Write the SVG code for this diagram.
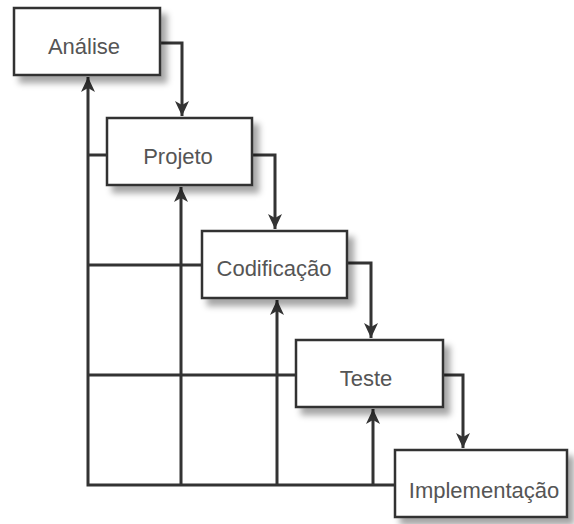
<svg xmlns="http://www.w3.org/2000/svg" width="574" height="524" viewBox="0 0 574 524">
<defs>
<style>
.box{fill:#fff;stroke:#333;stroke-width:2.5}
.lbl{font-family:"Liberation Sans",Arial,sans-serif;font-size:22px;fill:#555;text-anchor:middle}
.ln{fill:none;stroke:#333;stroke-width:3}
</style>
<filter id="sh" x="-10%" y="-10%" width="130%" height="140%">
<feDropShadow dx="6" dy="7" stdDeviation="3" flood-color="#000" flood-opacity="0.35"/>
</filter>
<marker id="au" markerWidth="15" markerHeight="14" refX="15" refY="7" orient="auto" markerUnits="userSpaceOnUse" viewBox="0 0 15 14">
<path d="M0,0 L4,7 L0,14 L15,7 Z" fill="#333"/>
</marker>
</defs>
<rect width="574" height="524" fill="#fff"/>
<g id="connectors">
<path class="ln" d="M160,43 H182 V116" marker-end="url(#au)"/>
<path class="ln" d="M252,155 H275 V229" marker-end="url(#au)"/>
<path class="ln" d="M347,263 H371 V338" marker-end="url(#au)"/>
<path class="ln" d="M443,375 H463 V448" marker-end="url(#au)"/>
<path class="ln" d="M395,485 H88 V77" marker-end="url(#au)"/>
<path class="ln" d="M181,485 V187" marker-end="url(#au)"/>
<path class="ln" d="M277,485 V300" marker-end="url(#au)"/>
<path class="ln" d="M373,485 V409" marker-end="url(#au)"/>
<path class="ln" d="M88,155 H107"/>
<path class="ln" d="M88,265 H202"/>
<path class="ln" d="M88,375 H296"/>
</g>
<g id="analise"><rect class="box" x="14" y="8" width="146" height="67" filter="url(#sh)"/><text class="lbl" x="84" y="54">Análise</text></g>
<g id="projeto"><rect class="box" x="107" y="118" width="145" height="67" filter="url(#sh)"/><text class="lbl" x="178" y="164">Projeto</text></g>
<g id="codificacao"><rect class="box" x="202" y="231" width="145" height="67" filter="url(#sh)"/><text class="lbl" x="274" y="276">Codificação</text></g>
<g id="teste"><rect class="box" x="296" y="340" width="147" height="67" filter="url(#sh)"/><text class="lbl" x="366" y="386">Teste</text></g>
<g id="implementacao"><rect class="box" x="395" y="450" width="172" height="67" filter="url(#sh)"/><text class="lbl" x="484" y="498">Implementação</text></g>
</svg>
